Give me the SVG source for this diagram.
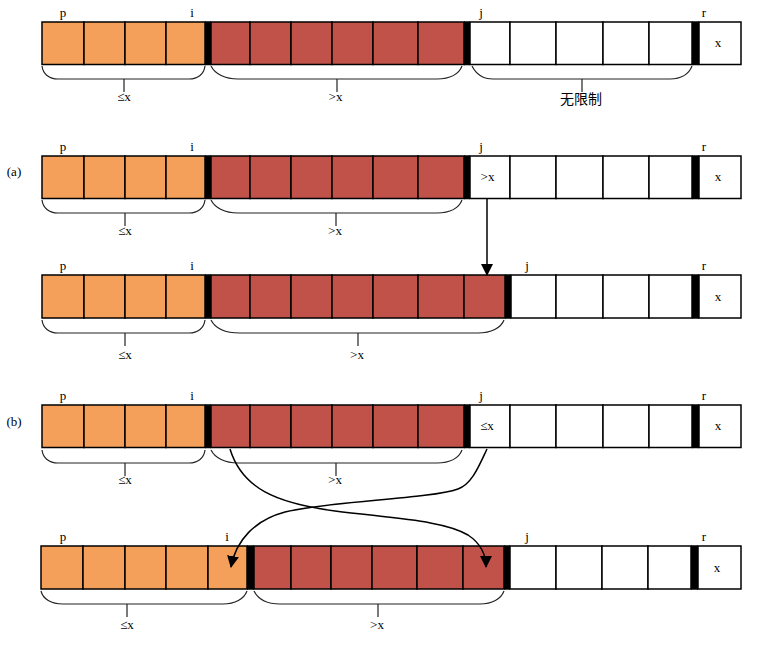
<svg xmlns="http://www.w3.org/2000/svg" xmlns:xlink="http://www.w3.org/1999/xlink" width="784" height="645" viewBox="0 0 784 645">
<style>
.o{fill:#F5A05A;stroke:#000;stroke-width:1.5}
.r{fill:#C0524A;stroke:#000;stroke-width:1.5}
.w{fill:#fff;stroke:#000;stroke-width:1.5}
.b{fill:#000}
.br{fill:none;stroke:#222;stroke-width:1.2}
.tm{font-family:"Liberation Serif","DejaVu Serif",serif;font-size:13px;fill:#000;text-anchor:middle}
.cjk{font-family:"Noto Sans CJK SC","Noto Sans",sans-serif;font-size:14px;fill:#000;text-anchor:middle}
.c{fill:none;stroke:#000;stroke-width:1.5}
</style>
<defs>
<marker id="ah" markerUnits="userSpaceOnUse" markerWidth="12" markerHeight="12" viewBox="0 0 12 12" refX="11" refY="6" orient="auto">
<path d="M0,0 L12,6 L0,12 z" fill="#000"/>
</marker>
<g id="rowA">
<rect class="o" x="42" y="0" width="42" height="42.5"/>
<rect class="o" x="84" y="0" width="41" height="42.5"/>
<rect class="o" x="125" y="0" width="41" height="42.5"/>
<rect class="o" x="166" y="0" width="39" height="42.5"/>
<rect class="r" x="211" y="0" width="39" height="42.5"/>
<rect class="r" x="250" y="0" width="41" height="42.5"/>
<rect class="r" x="291" y="0" width="41" height="42.5"/>
<rect class="r" x="332" y="0" width="41" height="42.5"/>
<rect class="r" x="373" y="0" width="45" height="42.5"/>
<rect class="r" x="418" y="0" width="46" height="42.5"/>
<rect class="w" x="470" y="0" width="40" height="42.5"/>
<rect class="w" x="510" y="0" width="46" height="42.5"/>
<rect class="w" x="556" y="0" width="47" height="42.5"/>
<rect class="w" x="603" y="0" width="46" height="42.5"/>
<rect class="w" x="649" y="0" width="43" height="42.5"/>
<rect class="w" x="699" y="0" width="42" height="42.5"/>
<rect class="b" x="205" y="-0.75" width="6" height="44"/>
<rect class="b" x="464" y="-0.75" width="6" height="44"/>
<rect class="b" x="692" y="-0.75" width="7" height="44"/>
</g>
</defs>

<g id="row1">
<use xlink:href="#rowA" transform="translate(0,22)"/>
<text class="tm" x="63" y="17">p</text>
<text class="tm" x="192" y="17">i</text>
<text class="tm" x="481" y="17">j</text>
<text class="tm" x="704" y="17">r</text>
<text class="tm" x="718" y="47">x</text>
<path class="br" d="M42,66 C43,74 49,79 58,79 L189,79 C198,79 204,74 205,66 M124,79 V92"/>
<path class="br" d="M211,66 C215,74 225,79 238,79 L437,79 C450,79 459,74 462,66 M337,79 V92"/>
<path class="br" d="M472,66 C476,74 483,79 493,79 L670,79 C681,79 689,74 692,66 M582,79 V92"/>
<text class="tm" x="124" y="101">≤x</text>
<text class="tm" x="335.5" y="101">&gt;x</text>
<text class="cjk" x="581" y="104">无限制</text>
</g>

<g id="row2">
<text class="tm" x="14" y="176">(a)</text>
<use xlink:href="#rowA" transform="translate(0,156)"/>
<text class="tm" x="63" y="151">p</text>
<text class="tm" x="192" y="151">i</text>
<text class="tm" x="481" y="151">j</text>
<text class="tm" x="704" y="151">r</text>
<text class="tm" x="487.5" y="181">&gt;x</text>
<text class="tm" x="718" y="181">x</text>
<path class="br" d="M42,200 C43,208 49,213 58,213 L189,213 C198,213 204,208 205,200 M125,213 V226"/>
<path class="br" d="M211,200 C215,208 225,213 238,213 L437,213 C450,213 459,208 462,200 M336,213 V226"/>
<text class="tm" x="125" y="235">≤x</text>
<text class="tm" x="335" y="235">&gt;x</text>
</g>

<g id="row3">
<rect class="o" x="42" y="275" width="42" height="43"/>
<rect class="o" x="84" y="275" width="41" height="43"/>
<rect class="o" x="125" y="275" width="41" height="43"/>
<rect class="o" x="166" y="275" width="39" height="43"/>
<rect class="r" x="211" y="275" width="39" height="43"/>
<rect class="r" x="250" y="275" width="41" height="43"/>
<rect class="r" x="291" y="275" width="41" height="43"/>
<rect class="r" x="332" y="275" width="41" height="43"/>
<rect class="r" x="373" y="275" width="45" height="43"/>
<rect class="r" x="418" y="275" width="46" height="43"/>
<rect class="r" x="464" y="275" width="41" height="43"/>
<rect class="w" x="511" y="275" width="45" height="43"/>
<rect class="w" x="556" y="275" width="47" height="43"/>
<rect class="w" x="603" y="275" width="46" height="43"/>
<rect class="w" x="649" y="275" width="43" height="43"/>
<rect class="w" x="699" y="275" width="42" height="43"/>
<rect class="b" x="205" y="274.25" width="6" height="44.5"/>
<rect class="b" x="505" y="274.25" width="6" height="44.5"/>
<rect class="b" x="692" y="274.25" width="7" height="44.5"/>
<text class="tm" x="63" y="270">p</text>
<text class="tm" x="192" y="270">i</text>
<text class="tm" x="527" y="270">j</text>
<text class="tm" x="704" y="270">r</text>
<text class="tm" x="718" y="301">x</text>
<path class="br" d="M42,320 C43,328 49,333 58,333 L189,333 C198,333 204,328 205,320 M125,333 V346"/>
<path class="br" d="M211,320 C215,328 225,333 240,333 L478,333 C491,333 501,328 504,320 M358,333 V346"/>
<text class="tm" x="125" y="359">≤x</text>
<text class="tm" x="357" y="359">&gt;x</text>
</g>

<g id="row4">
<text class="tm" x="14" y="426">(b)</text>
<use xlink:href="#rowA" transform="translate(0,405)"/>
<text class="tm" x="63" y="400">p</text>
<text class="tm" x="192" y="400">i</text>
<text class="tm" x="481" y="400">j</text>
<text class="tm" x="704" y="400">r</text>
<text class="tm" x="487" y="430">≤x</text>
<text class="tm" x="718" y="430">x</text>
<path class="br" d="M42,450 C43,458 49,463 58,463 L189,463 C198,463 204,458 205,450 M125,463 V476"/>
<path class="br" d="M211,450 C215,458 225,463 238,463 L437,463 C450,463 459,458 462,450 M336,463 V476"/>
<text class="tm" x="125" y="484">≤x</text>
<text class="tm" x="335" y="484">&gt;x</text>
</g>

<g id="row5">
<rect class="o" x="41" y="546" width="42" height="43"/>
<rect class="o" x="83" y="546" width="42" height="43"/>
<rect class="o" x="125" y="546" width="41" height="43"/>
<rect class="o" x="166" y="546" width="42" height="43"/>
<rect class="o" x="208" y="546" width="39" height="43"/>
<rect class="r" x="254" y="546" width="37" height="43"/>
<rect class="r" x="291" y="546" width="40" height="43"/>
<rect class="r" x="331" y="546" width="41" height="43"/>
<rect class="r" x="372" y="546" width="45" height="43"/>
<rect class="r" x="417" y="546" width="46" height="43"/>
<rect class="r" x="463" y="546" width="41" height="43"/>
<rect class="w" x="510" y="546" width="46" height="43"/>
<rect class="w" x="556" y="546" width="46" height="43"/>
<rect class="w" x="602" y="546" width="46" height="43"/>
<rect class="w" x="648" y="546" width="43" height="43"/>
<rect class="w" x="698" y="546" width="43" height="43"/>
<rect class="b" x="247" y="545.25" width="7" height="44.5"/>
<rect class="b" x="504" y="545.25" width="6" height="44.5"/>
<rect class="b" x="691" y="545.25" width="7" height="44.5"/>
<text class="tm" x="63" y="541">p</text>
<text class="tm" x="227" y="541">i</text>
<text class="tm" x="527" y="541">j</text>
<text class="tm" x="704" y="541">r</text>
<text class="tm" x="717" y="572">x</text>
<path class="br" d="M41,591 C43,599 51,604 63,604 L223,604 C235,604 244,599 247,591 M127,604 V617"/>
<path class="br" d="M254,591 C258,599 267,604 280,604 L480,604 C492,604 501,599 504,591 M378,604 V617"/>
<text class="tm" x="127" y="629">≤x</text>
<text class="tm" x="377" y="629">&gt;x</text>
</g>

<g id="connectors">
<path class="c" d="M487,199 V275" marker-end="url(#ah)"/>
<path class="c" d="M230,449 C242,488 275,503 335,511 C400,519 445,521 468,535 C480,543 486,553 486,567" marker-end="url(#ah)"/>
<path class="c" d="M487,449 C479,466 472,484 458,489 C430,499 330,501 285,512 C255,520 236,540 231,567" marker-end="url(#ah)"/>
</g>
</svg>
